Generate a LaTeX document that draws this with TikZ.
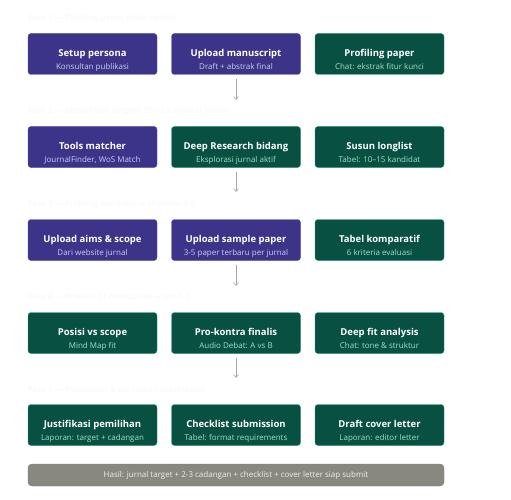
\documentclass[tikz,border=0pt]{standalone}
\usepackage{fontspec}
\setmainfont{Open Sans}
\newfontfamily\symfont{DejaVu Sans}
\usepackage{xcolor}
\usepackage{tikz}
\usetikzlibrary{arrows.meta,positioning,calc}

\definecolor{pfill}{HTML}{3C3489}
\definecolor{pline}{HTML}{534AB7}
\definecolor{psub}{HTML}{CECBF6}
\definecolor{gfill}{HTML}{085041}
\definecolor{gline}{HTML}{1D9E75}
\definecolor{gsub}{HTML}{9FE1CB}
\definecolor{barfill}{HTML}{888780}
\definecolor{bartxt}{HTML}{F1EFE8}
\definecolor{hdr}{HTML}{F9F9F8}

\newcommand{\ttl}[1]{{\fontsize{9.5}{11}\selectfont\bfseries\rule{0pt}{21pt}#1}\\[3.5pt]}
\newcommand{\sbt}[2]{{\color{#1}#2\rule[-3pt]{0pt}{3pt}}}
\newcommand{\ra}{{\symfont →}}

\begin{document}
\begin{tikzpicture}[
            x=1pt, y=-1pt,
            every node/.style={font=\fontsize{8}{9.5}\selectfont, align=center, inner sep=0pt},
            pu/.style={draw=pline, fill=pfill, text=white, rounded corners=3pt, minimum width=129pt, minimum height=41pt},
            gr/.style={draw=gline, fill=gfill, text=white, rounded corners=3pt, minimum width=129pt, minimum height=41pt},
            hd/.style={anchor=west, text=hdr, font=\fontsize{8}{9.5}\selectfont\bfseries},
            fl/.style={-{Straight Barb[length=3pt,width=5pt]}, draw=gray!70, line width=0.6pt},
        ]
            \useasboundingbox (0,0) rectangle (511,500);

            % fase 1
            \node[hd] (h1) at (28,18) {Fase 1 — Profiling paper Anda sendiri};
            \node[pu] (persona) at (92.5,54) {\ttl{Setup persona}\sbt{psub}{Konsultan publikasi}};
            \node[pu] (manus) at (236,54) {\ttl{Upload manuscript}\sbt{psub}{Draft + abstrak final}};
            \node[gr] (profil) at (379.5,54) {\ttl{Profiling paper}\sbt{gsub}{Chat: ekstrak fitur kunci}};

            % fase 2
            \node[hd] (h2) at (28,111) {Fase 2 — Identifikasi longlist 10-15 kandidat jurnal};
            \node[pu] (tools) at (92.5,147) {\ttl{Tools matcher}\sbt{psub}{JournalFinder, WoS Match}};
            \node[gr] (deep) at (236,147) {\ttl{Deep Research bidang}\sbt{gsub}{Eksplorasi jurnal aktif}};
            \node[gr] (longl) at (379.5,147) {\ttl{Susun longlist}\sbt{gsub}{Tabel: 10–15 kandidat}};

            % fase 3
            \node[hd] (h3) at (28,204) {Fase 3 — Profiling kandidat \ra{} shortlist 3-5};
            \node[pu] (aims) at (92.5,240) {\ttl{Upload aims \& scope}\sbt{psub}{Dari website jurnal}};
            \node[pu] (sample) at (236,240) {\ttl{Upload sample paper}\sbt{psub}{3-5 paper terbaru per jurnal}};
            \node[gr] (tabel) at (379.5,240) {\ttl{Tabel komparatif}\sbt{gsub}{6 kriteria evaluasi}};

            % fase 4
            \node[hd] (h4) at (28,297) {Fase 4 — Analisis fit mendalam \ra{} top 1-2};
            \node[gr] (posisi) at (92.5,333) {\ttl{Posisi vs scope}\sbt{gsub}{Mind Map fit}};
            \node[gr] (prokon) at (236,333) {\ttl{Pro-kontra finalis}\sbt{gsub}{Audio Debat: A vs B}};
            \node[gr] (fit) at (379.5,333) {\ttl{Deep fit analysis}\sbt{gsub}{Chat: tone \& struktur}};

            % fase 5
            \node[hd] (h5) at (28,390) {Fase 5 — Keputusan \& persiapan submission};
            \node[gr] (justi) at (92.5,425) {\ttl{Justifikasi pemilihan}\sbt{gsub}{Laporan: target + cadangan}};
            \node[gr] (check) at (236,425) {\ttl{Checklist submission}\sbt{gsub}{Tabel: format requirements}};
            \node[gr] (cover) at (379.5,425) {\ttl{Draft cover letter}\sbt{gsub}{Laporan: editor letter}};

            % hasil
            \node[fill=barfill, draw=barfill!90!black, rounded corners=4pt, minimum width=416pt, minimum height=22pt, text=bartxt] (hasil) at (236,475) {Hasil: jurnal target + 2-3 cadangan + checklist + cover letter siap submit};

            \coordinate (a1) at (236,100);
            \coordinate (a2) at (236,192);
            \coordinate (a3) at (236,286);
            \coordinate (a4) at (236,378);
            \draw[fl] ($(manus.south)+(0,4)$) -- (a1);
            \draw[fl] ($(deep.south)+(0,4)$) -- (a2);
            \draw[fl] ($(sample.south)+(0,4)$) -- (a3);
            \draw[fl] ($(prokon.south)+(0,4)$) -- (a4);
        \end{tikzpicture}
\end{document}
